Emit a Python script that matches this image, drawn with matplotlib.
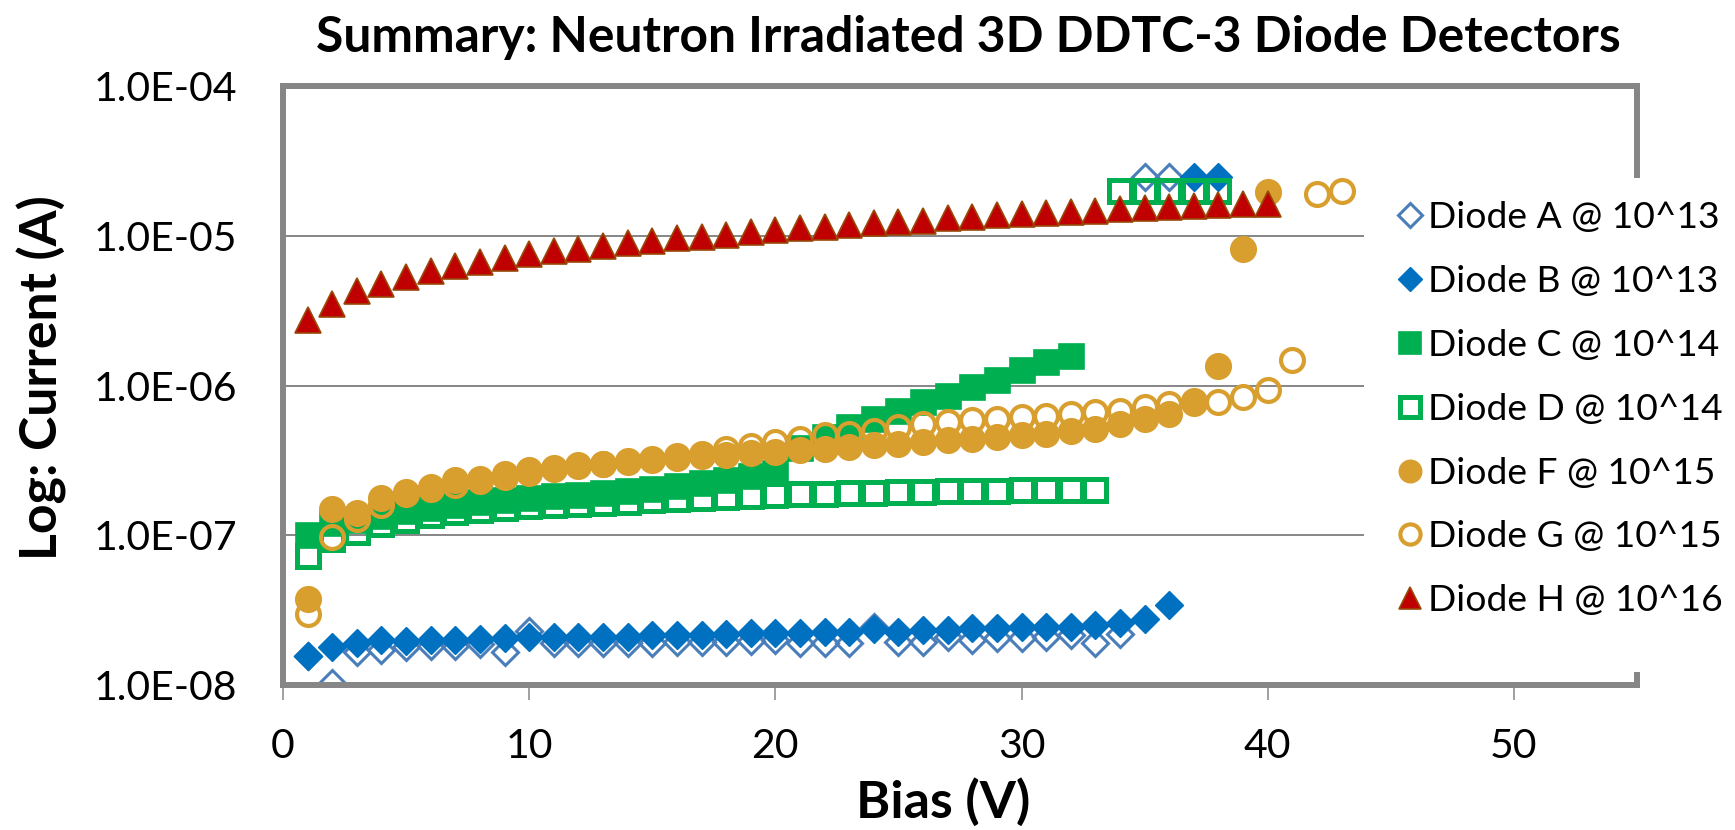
import matplotlib
matplotlib.use("Agg")
import matplotlib.pyplot as plt
from matplotlib.ticker import FixedLocator, FuncFormatter, NullLocator
from matplotlib.patches import Rectangle

plt.rcParams["font.family"] = ["Lato", "DejaVu Sans"]

# ---- measured leakage current (A) versus reverse bias (V) ----
bias_A = list(range(1, 37))
current_A = [1.55e-8, 1.03e-8, 1.67e-8, 1.71e-8, 1.80e-8, 1.83e-8, 1.83e-8, 1.87e-8,
             1.67e-8, 2.30e-8, 1.90e-8, 1.90e-8, 1.90e-8, 1.92e-8, 1.92e-8, 1.95e-8,
             1.95e-8, 1.95e-8, 1.97e-8, 2.00e-8, 1.90e-8, 1.92e-8, 1.90e-8, 2.45e-8,
             1.95e-8, 1.95e-8, 2.10e-8, 2.00e-8, 2.05e-8, 2.05e-8, 2.10e-8, 2.15e-8,
             1.90e-8, 2.20e-8, 2.45e-5, 2.45e-5]

bias_B = list(range(1, 39))
current_B = [1.55e-8, 1.80e-8, 1.90e-8, 2.00e-8, 1.98e-8, 2.00e-8, 2.00e-8, 2.02e-8,
             2.05e-8, 2.10e-8, 2.10e-8, 2.10e-8, 2.10e-8, 2.10e-8, 2.15e-8, 2.15e-8,
             2.15e-8, 2.18e-8, 2.21e-8, 2.21e-8, 2.21e-8, 2.27e-8, 2.27e-8, 2.35e-8,
             2.27e-8, 2.33e-8, 2.33e-8, 2.39e-8, 2.39e-8, 2.45e-8, 2.45e-8, 2.45e-8,
             2.51e-8, 2.58e-8, 2.78e-8, 3.41e-8, 2.45e-5, 2.45e-5]

bias_C = list(range(1, 33))
current_C = [1.00e-7, 1.20e-7, 1.27e-7, 1.35e-7, 1.45e-7, 1.53e-7, 1.60e-7, 1.66e-7,
             1.72e-7, 1.77e-7, 1.82e-7, 1.87e-7, 1.92e-7, 1.98e-7, 2.04e-7, 2.12e-7,
             2.22e-7, 2.35e-7, 2.50e-7, 2.60e-7, 3.80e-7, 4.50e-7, 5.27e-7, 6.00e-7,
             6.80e-7, 7.70e-7, 8.55e-7, 9.70e-7, 1.09e-6, 1.26e-6, 1.43e-6, 1.58e-6]

bias_D = list(range(1, 39))
current_D = [7.30e-8, 9.50e-8, 1.05e-7, 1.18e-7, 1.27e-7, 1.37e-7, 1.42e-7, 1.48e-7,
             1.52e-7, 1.56e-7, 1.59e-7, 1.62e-7, 1.65e-7, 1.68e-7, 1.71e-7, 1.74e-7,
             1.77e-7, 1.80e-7, 1.83e-7, 1.86e-7, 1.88e-7, 1.90e-7, 1.91e-7, 1.92e-7,
             1.93e-7, 1.95e-7, 1.96e-7, 1.97e-7, 1.98e-7, 1.99e-7, 2.00e-7, 2.00e-7,
             2.01e-7, 2.00e-5, 2.00e-5, 2.00e-5, 2.00e-5, 2.00e-5]

bias_F = list(range(1, 41))
current_F = [3.78e-8, 1.50e-7, 1.40e-7, 1.76e-7, 1.90e-7, 2.10e-7, 2.33e-7, 2.39e-7,
             2.58e-7, 2.71e-7, 2.82e-7, 2.93e-7, 3.00e-7, 3.08e-7, 3.16e-7, 3.30e-7,
             3.36e-7, 3.45e-7, 3.55e-7, 3.62e-7, 3.70e-7, 3.78e-7, 3.88e-7, 3.98e-7,
             4.08e-7, 4.19e-7, 4.30e-7, 4.41e-7, 4.52e-7, 4.64e-7, 4.76e-7, 5.00e-7,
             5.14e-7, 5.55e-7, 6.00e-7, 6.48e-7, 7.90e-7, 1.36e-6, 8.15e-6, 1.96e-5]

bias_G = list(range(1, 44))
current_G = [3.00e-8, 9.75e-8, 1.29e-7, 1.60e-7, 1.95e-7, 2.05e-7, 2.15e-7, 2.30e-7,
             2.45e-7, 2.60e-7, 2.75e-7, 2.88e-7, 3.00e-7, 3.12e-7, 3.25e-7, 3.38e-7,
             3.50e-7, 3.75e-7, 3.95e-7, 4.20e-7, 4.41e-7, 4.64e-7, 4.76e-7, 5.00e-7,
             5.28e-7, 5.55e-7, 5.68e-7, 5.84e-7, 6.00e-7, 6.13e-7, 6.30e-7, 6.46e-7,
             6.64e-7, 6.80e-7, 7.20e-7, 7.55e-7, 7.60e-7, 7.80e-7, 8.40e-7, 9.30e-7,
             1.48e-6, 1.90e-5, 2.00e-5]

bias_H = list(range(1, 41))
current_H = [2.75e-6, 3.52e-6, 4.26e-6, 4.79e-6, 5.30e-6, 5.85e-6, 6.28e-6, 6.64e-6,
             7.10e-6, 7.50e-6, 7.86e-6, 8.10e-6, 8.49e-6, 8.89e-6, 9.17e-6, 9.66e-6,
             9.84e-6, 1.016e-5, 1.06e-5, 1.086e-5, 1.12e-5, 1.14e-5, 1.18e-5, 1.21e-5,
             1.24e-5, 1.26e-5, 1.31e-5, 1.33e-5, 1.37e-5, 1.39e-5, 1.42e-5, 1.44e-5,
             1.46e-5, 1.50e-5, 1.53e-5, 1.56e-5, 1.58e-5, 1.61e-5, 1.63e-5, 1.64e-5]

labels = ["Diode A @ 10^13", "Diode B @ 10^13", "Diode C @ 10^14", "Diode D @ 10^14",
          "Diode F @ 10^15", "Diode G @ 10^15", "Diode H @ 10^16"]

x_ticks = [0, 10, 20, 30, 40, 50]
y_ticks = [1e-8, 1e-7, 1e-6, 1e-5, 1e-4]

# ---- styling ----
GRAY = "#868686"
BLUE_LIGHT = "#4A7EBB"
BLUE = "#0070C0"
GREEN = "#00B050"
GOLD = "#D89E2E"
RED = "#C00000"
RED_EDGE = "#984807"

fig = plt.figure(figsize=(17.35, 8.30), dpi=100)
ax = fig.add_axes([283 / 1735, 1 - 685 / 830, 1354 / 1735, 599 / 830])

series = [
    (bias_A, current_A, dict(marker="D", ms=13.5, mfc="none", mec=BLUE_LIGHT, mew=2.2)),
    (bias_B, current_B, dict(marker="D", ms=14.0, mfc=BLUE, mec=BLUE, mew=1.0)),
    (bias_C, current_C, dict(marker="s", ms=18.0, mfc=GREEN, mec=GREEN, mew=1.2)),
    (bias_D, current_D, dict(marker="s", ms=15.8, mfc="none", mec=GREEN, mew=3.6)),
    (bias_F, current_F, dict(marker="o", ms=18.5, mfc=GOLD, mec=GOLD, mew=1.0)),
    (bias_G, current_G, dict(marker="o", ms=16.5, mfc="none", mec=GOLD, mew=3.0)),
    (bias_H, current_H, dict(marker="^", ms=18.5, mfc=RED, mec=RED_EDGE, mew=1.2)),
]
handles = []
for (bx, cy, style), lab in zip(series, labels):
    h, = ax.plot(bx, cy, linestyle="none", label=lab, zorder=2, **style)
    handles.append(h)

ax.set_yscale("log")
ax.set_xlim(0, 55)
ax.set_ylim(1e-8, 1e-4)
ax.xaxis.set_major_locator(FixedLocator(x_ticks))
ax.yaxis.set_major_locator(FixedLocator(y_ticks))
ax.yaxis.set_minor_locator(NullLocator())
ax.xaxis.set_minor_locator(NullLocator())
ax.yaxis.set_major_formatter(FuncFormatter(lambda v, p: f"{v:.1E}"))

ax.set_axisbelow(True)
ax.grid(axis="y", color=GRAY, linewidth=1.4)
for s in ax.spines.values():
    s.set_color(GRAY)
    s.set_linewidth(4.3)

ax.tick_params(axis="x", direction="out", length=11, width=1.1, color=GRAY,
               pad=20, labelsize=29.5)
ax.tick_params(axis="y", length=0, pad=33, labelsize=29.5)

ax.set_xlabel("Bias (V)", fontsize=37.5, fontweight="bold", va="center")
ax.xaxis.set_label_coords((943 - 283) / 1354, (685 - 802) / 599)
ax.set_ylabel("Log: Current (A)", fontsize=37.3, fontweight="bold", va="center")
ax.yaxis.set_label_coords((42 - 283) / 1354, (685 - 378) / 599)

fig.text(968 / 1735, 1 - 37 / 830, "Summary: Neutron Irradiated 3D DDTC-3 Diode Detectors",
         ha="center", va="center", fontsize=35.8, fontweight="bold")

# white legend panel overlapping the right side of the plot frame
ax.add_patch(Rectangle((1364 / 1735, 1 - 672 / 830), 300 / 1735, 494 / 830,
                       transform=fig.transFigure, facecolor="white", edgecolor="none",
                       clip_on=False, zorder=3))

leg = ax.legend(handles=handles, loc="upper left",
                bbox_to_anchor=(1397 / 1735, 1 - 201 / 830),
                bbox_transform=fig.transFigure, frameon=False, fontsize=26.8,
                handlelength=0.7, handletextpad=0.13, labelspacing=0.83,
                borderpad=0, borderaxespad=0, markerscale=0.88, numpoints=1)
leg.set_zorder(5)

fig.savefig("out.png", dpi=100)
